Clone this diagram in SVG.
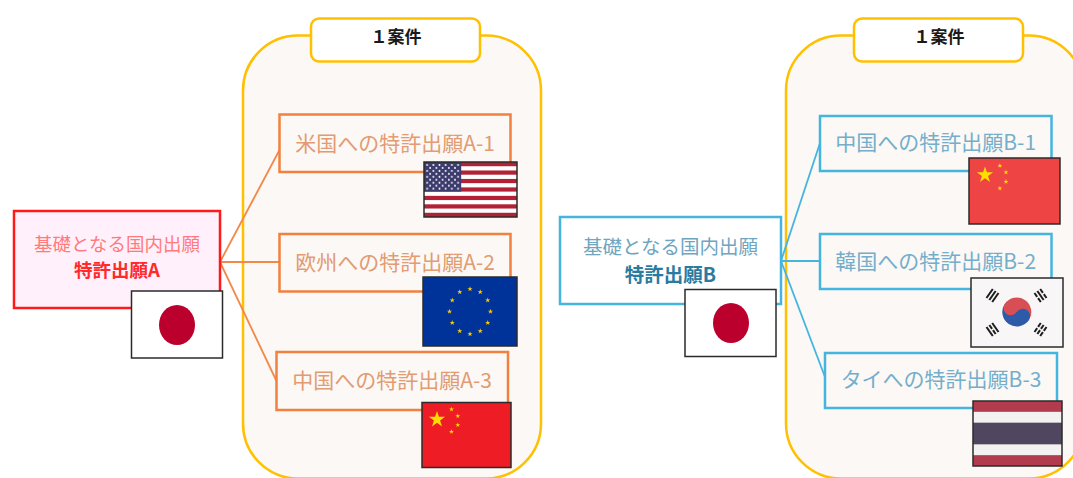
<svg xmlns="http://www.w3.org/2000/svg" xmlns:xlink="http://www.w3.org/1999/xlink" width="1073" height="478" viewBox="0 0 1073 478">
<style>
text{font-family:"Noto Sans CJK JP","Noto Sans",sans-serif;text-anchor:middle}
.cont{fill:#FBF8F5;stroke:#FFC000;stroke-width:2.5}
.lab{fill:#FFFFFF;stroke:#FFC000;stroke-width:2.5}
.labt{font-size:17px;font-weight:700;fill:#1A1A1A}
.ob{fill:#FBF8F5;stroke:#F2803F;stroke-width:2.5}
.bb{fill:#FBF8F5;stroke:#45B5E0;stroke-width:2.5}
.ot{font-size:21px;fill:#E29B72}
.bt{font-size:21px;fill:#74AECB}
.oc{stroke:#F2894A;stroke-width:1.8;fill:none}
.bc{stroke:#45B5E0;stroke-width:1.8;fill:none}
.fb{fill:none;stroke:#2B2B2B;stroke-width:1.5}
.ys{fill:#FFDE00}
.ey{fill:#FFCC00}
.kb{fill:#1E1E1E}
</style>
<defs>
<path id="star" d="M0,-1 L0.2245,-0.309 L0.951,-0.309 L0.363,0.118 L0.588,0.809 L0,0.382 L-0.588,0.809 L-0.363,0.118 L-0.951,-0.309 L-0.2245,-0.309 Z"/>
<pattern id="usstars" patternUnits="userSpaceOnUse" x="424" y="162" width="6.2" height="5.92">
<circle cx="3.1" cy="2.96" r="0.95" fill="#FFFFFF"/>
<circle cx="0" cy="0" r="0.95" fill="#FFFFFF"/>
<circle cx="6.2" cy="0" r="0.95" fill="#FFFFFF"/>
<circle cx="0" cy="5.92" r="0.95" fill="#FFFFFF"/>
<circle cx="6.2" cy="5.92" r="0.95" fill="#FFFFFF"/>
</pattern>
<g id="bar"><rect x="-5.5" y="-1" width="11" height="2"/></g>
<g id="brk"><rect x="-5.5" y="-1" width="4.7" height="2"/><rect x="0.8" y="-1" width="4.7" height="2"/></g>
</defs>

<!-- containers -->
<g id="group-A">
<rect class="cont" x="243" y="35.5" width="298" height="443" rx="55"/>
<rect class="lab" x="311" y="18.5" width="169" height="43" rx="8"/>
<text class="labt" x="396" y="43">１案件</text>
</g>
<g id="group-B">
<rect class="cont" x="786" y="35.5" width="298" height="443" rx="55"/>
<rect class="lab" x="854" y="18.5" width="169" height="43" rx="8"/>
<text class="labt" x="939" y="43">１案件</text>
</g>

<!-- connectors -->
<g id="connectors">
<path class="oc" d="M220,262 L279.5,150"/>
<path class="oc" d="M220,262 L279.5,262"/>
<path class="oc" d="M220,262 L276.5,381"/>
<path class="bc" d="M781,261 L820,143"/>
<path class="bc" d="M781,261 L820,261"/>
<path class="bc" d="M781,261 L825,377"/>
</g>

<!-- base node A -->
<g id="node-base-A">
<rect x="14" y="211" width="206" height="97" fill="#FFF0FB" stroke="#FF1A1A" stroke-width="2.5"/>
<text x="117" y="251" font-size="18.5" fill="#FF7B7B">基礎となる国内出願</text>
<text x="117" y="277" font-size="18.5" font-weight="700" fill="#FF2A2A">特許出願A</text>
<g id="flag-jp-A">
<rect x="131.5" y="291" width="91" height="67" fill="#FFFFFF"/>
<ellipse cx="177" cy="325" rx="18" ry="20" fill="#BC002D"/>
<rect class="fb" x="131.5" y="291" width="91" height="67"/>
</g>
</g>

<!-- A-1 -->
<g id="node-A1">
<rect class="ob" x="279.5" y="114.5" width="231" height="57.5"/>
<text class="ot" x="395" y="151">米国への特許出願A-1</text>
<g id="flag-us">
<rect x="424" y="162" width="93" height="55" fill="#FFFFFF"/>
<g fill="#B22234">
<rect x="424" y="162" width="93" height="4.23"/>
<rect x="424" y="170.46" width="93" height="4.23"/>
<rect x="424" y="178.92" width="93" height="4.23"/>
<rect x="424" y="187.38" width="93" height="4.23"/>
<rect x="424" y="195.85" width="93" height="4.23"/>
<rect x="424" y="204.31" width="93" height="4.23"/>
<rect x="424" y="212.77" width="93" height="4.23"/>
</g>
<rect x="424" y="162" width="37.2" height="29.6" fill="#3C3B6E"/>
<rect x="425.5" y="163.5" width="34.2" height="26.6" fill="url(#usstars)"/>
<rect class="fb" x="424" y="162" width="93" height="55"/>
</g>
</g>

<!-- A-2 -->
<g id="node-A2">
<rect class="ob" x="279.5" y="234" width="231" height="57.5"/>
<text class="ot" x="395" y="270">欧州への特許出願A-2</text>
<g id="flag-eu">
<rect x="423" y="277" width="94" height="69" fill="#003399"/>
<g class="ey">
<use xlink:href="#star" href="#star" transform="translate(470,289) scale(2.8)"/>
<use xlink:href="#star" href="#star" transform="translate(480.25,292) scale(2.8)"/>
<use xlink:href="#star" href="#star" transform="translate(487.75,300.25) scale(2.8)"/>
<use xlink:href="#star" href="#star" transform="translate(490.5,311.5) scale(2.8)"/>
<use xlink:href="#star" href="#star" transform="translate(487.75,322.75) scale(2.8)"/>
<use xlink:href="#star" href="#star" transform="translate(480.25,331) scale(2.8)"/>
<use xlink:href="#star" href="#star" transform="translate(470,334) scale(2.8)"/>
<use xlink:href="#star" href="#star" transform="translate(459.75,331) scale(2.8)"/>
<use xlink:href="#star" href="#star" transform="translate(452.25,322.75) scale(2.8)"/>
<use xlink:href="#star" href="#star" transform="translate(449.5,311.5) scale(2.8)"/>
<use xlink:href="#star" href="#star" transform="translate(452.25,300.25) scale(2.8)"/>
<use xlink:href="#star" href="#star" transform="translate(459.75,292) scale(2.8)"/>
</g>
<rect class="fb" x="423" y="277" width="94" height="69"/>
</g>
</g>

<!-- A-3 -->
<g id="node-A3">
<rect class="ob" x="276.5" y="352" width="231.5" height="58"/>
<text class="ot" x="392" y="388">中国への特許出願A-3</text>
<g id="flag-cn-A">
<rect x="422" y="402.5" width="89" height="65" fill="#EE1C25"/>
<g class="ys">
<use xlink:href="#star" href="#star" transform="translate(437,419.5) scale(8.5)"/>
<use xlink:href="#star" href="#star" transform="translate(451.5,409.3) scale(2.6)"/>
<use xlink:href="#star" href="#star" transform="translate(457.8,416) scale(2.6)"/>
<use xlink:href="#star" href="#star" transform="translate(457.8,425) scale(2.6)"/>
<use xlink:href="#star" href="#star" transform="translate(451.5,431.7) scale(2.6)"/>
</g>
<rect class="fb" x="422" y="402.5" width="89" height="65"/>
</g>
</g>

<!-- base node B -->
<g id="node-base-B">
<rect x="560" y="217" width="221" height="87" fill="#FFFFFF" stroke="#45B5E0" stroke-width="2.5"/>
<text x="670.5" y="254" font-size="19.5" fill="#6FA5BF">基礎となる国内出願</text>
<text x="670.5" y="282" font-size="19.5" font-weight="700" fill="#2A7BA0">特許出願B</text>
<g id="flag-jp-B">
<rect x="685" y="289.5" width="91" height="67" fill="#FFFFFF"/>
<ellipse cx="731" cy="323" rx="18" ry="20" fill="#BC002D"/>
<rect class="fb" x="685" y="289.5" width="91" height="67"/>
</g>
</g>

<!-- B-1 -->
<g id="node-B1">
<rect class="bb" x="820" y="116" width="231.5" height="55"/>
<text class="bt" x="935.7" y="150">中国への特許出願B-1</text>
<g id="flag-cn-B">
<rect x="969" y="158" width="91" height="66" fill="#EF4444"/>
<g class="ys">
<use xlink:href="#star" href="#star" transform="translate(985,175) scale(8.5)"/>
<use xlink:href="#star" href="#star" transform="translate(999.9,165.7) scale(2.6)"/>
<use xlink:href="#star" href="#star" transform="translate(1006,172.3) scale(2.6)"/>
<use xlink:href="#star" href="#star" transform="translate(1006,181.7) scale(2.6)"/>
<use xlink:href="#star" href="#star" transform="translate(999.9,188.3) scale(2.6)"/>
</g>
<rect class="fb" x="969" y="158" width="91" height="66"/>
</g>
</g>

<!-- B-2 -->
<g id="node-B2">
<rect class="bb" x="820" y="234" width="231.5" height="55"/>
<text class="bt" x="935.7" y="269">韓国への特許出願B-2</text>
<g id="flag-kr">
<rect x="971" y="278" width="92" height="69" fill="#F8F6F6"/>
<g transform="translate(1016.8,312) rotate(33.7)">
<path d="M-14.5,0 A14.5,14.5 0 0 1 14.5,0 Z" fill="#D94E55"/>
<path d="M-14.5,0 A14.5,14.5 0 0 0 14.5,0 Z" fill="#2E5BA8"/>
<circle cx="-7.25" cy="0" r="7.25" fill="#D94E55"/>
<circle cx="7.25" cy="0" r="7.25" fill="#2E5BA8"/>
</g>
<g class="kb">
<g transform="translate(992.5,295.5) rotate(-55)">
<use xlink:href="#bar" href="#bar" y="-3.5"/><use xlink:href="#bar" href="#bar"/><use xlink:href="#bar" href="#bar" y="3.5"/>
</g>
<g transform="translate(1040.5,295.5) rotate(55)">
<use xlink:href="#brk" href="#brk" y="-3.5"/><use xlink:href="#bar" href="#bar"/><use xlink:href="#brk" href="#brk" y="3.5"/>
</g>
<g transform="translate(992.5,329.5) rotate(55)">
<use xlink:href="#bar" href="#bar" y="-3.5"/><use xlink:href="#brk" href="#brk"/><use xlink:href="#bar" href="#bar" y="3.5"/>
</g>
<g transform="translate(1040.5,329.5) rotate(-55)">
<use xlink:href="#brk" href="#brk" y="-3.5"/><use xlink:href="#brk" href="#brk"/><use xlink:href="#brk" href="#brk" y="3.5"/>
</g>
</g>
<rect class="fb" x="971" y="278" width="92" height="69"/>
</g>
</g>

<!-- B-3 -->
<g id="node-B3">
<rect class="bb" x="825" y="353" width="232" height="55"/>
<text class="bt" x="941" y="387">タイへの特許出願B-3</text>
<g id="flag-th">
<rect x="973" y="401" width="89" height="65" fill="#F3F1F1"/>
<rect x="973" y="401" width="89" height="10.83" fill="#B23C4E"/>
<rect x="973" y="422.67" width="89" height="21.66" fill="#514660"/>
<rect x="973" y="455.17" width="89" height="10.83" fill="#B23C4E"/>
<rect class="fb" x="973" y="401" width="89" height="65"/>
</g>
</g>
</svg>
